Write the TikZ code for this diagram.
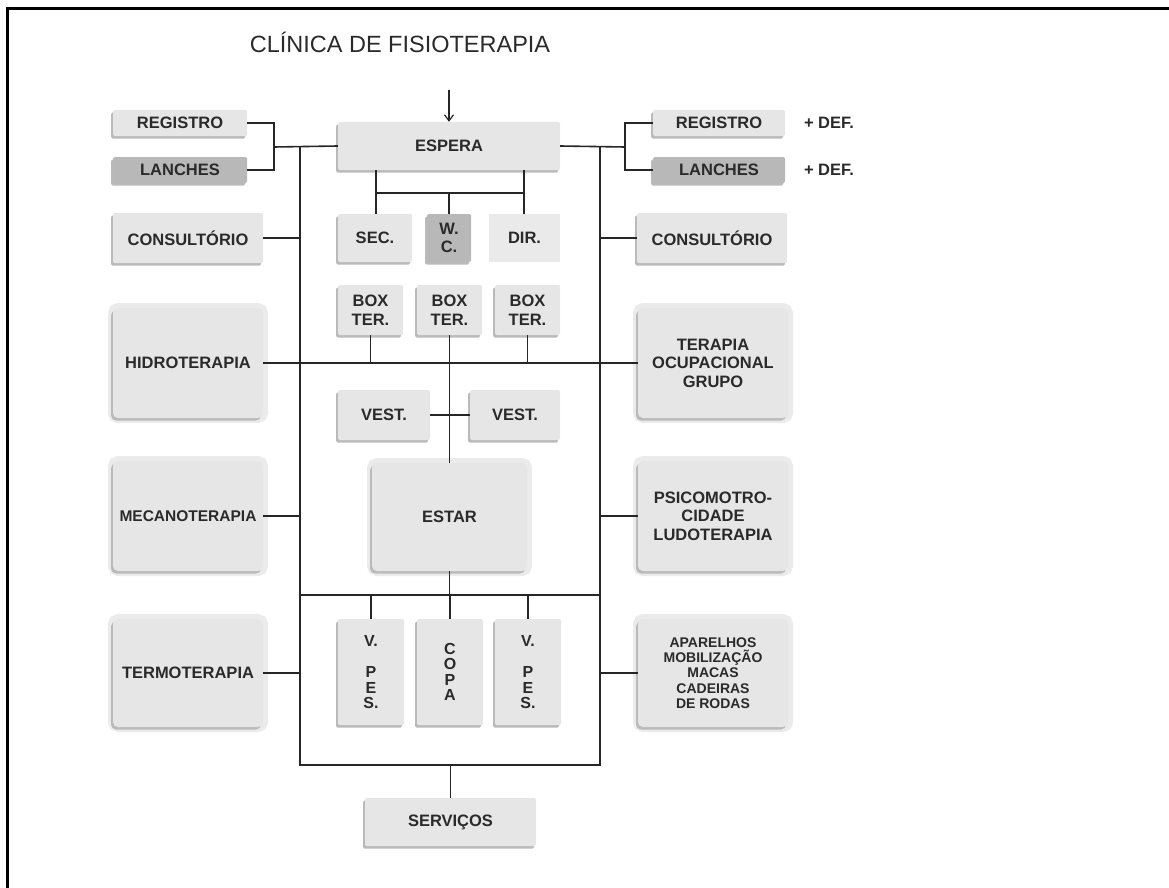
\documentclass[tikz,border=0pt]{standalone}
\usepackage{fontspec}
\setmainfont{Liberation Sans}
\usetikzlibrary{arrows.meta, shadows}
\definecolor{roomfill}{HTML}{E6E6E6}
\definecolor{wetfill}{HTML}{B8B8B8}
\definecolor{flatfill}{HTML}{EAEAEA}
\definecolor{shadefill}{HTML}{BABABA}
\definecolor{halofill}{HTML}{EBEBEB}
\definecolor{labeltext}{HTML}{2A2A2A}
\newcommand{\roomfont}{\bfseries\fontsize{16.5}{18.5}\selectfont}
\newcommand{\stackfont}{\bfseries\fontsize{16}{15.5}\selectfont}
\newcommand{\smallroomfont}{\bfseries\fontsize{14}{15.3}\selectfont}
\tikzset{
    room/.style={rectangle, rounded corners=1.5pt, fill=roomfill,
        text=labeltext, font=\roomfont, align=center, inner sep=0pt,
        drop shadow={shadow xshift=-2pt, shadow yshift=-2.5pt,
            fill=shadefill, opacity=1}},
    wetroom/.style={room, fill=wetfill},
    flatroom/.style={rectangle, fill=flatfill, text=labeltext,
        font=\roomfont, align=center, inner sep=0pt},
    bigroom/.style={preaction={draw=halofill, line width=10pt}, room,
        rounded corners=5pt},
    link/.style={draw=black!85, line width=1.6pt},
}

\begin{document}
\begin{tikzpicture}[x=1pt, y=-1pt]
    \useasboundingbox (0,0) rectangle (1169,888);
    \draw[line width=3pt] (7,888) -- (7,9) -- (1169,9); % Open frame

    \node[font=\fontsize{23.5}{26}\selectfont, text=labeltext] (title) at (400,42)
        {CLÍNICA DE FISIOTERAPIA};

    % Left wing
    \node[room, minimum width=134, minimum height=26] (regL) at (180,123) {REGISTRO};
    \node[wetroom, minimum width=134, minimum height=26] (lanL) at (180,170) {LANCHES};
    \node[room, minimum width=150, minimum height=50] (consL) at (188,238) {CONSULTÓRIO};
    \node[bigroom, minimum width=150, minimum height=110] (hidro) at (188,363) {HIDROTERAPIA};
    \node[bigroom, font=\bfseries\fontsize{15.5}{18}\selectfont, minimum width=150,
        minimum height=110] (mecano) at (188,516) {MECANOTERAPIA};
    \node[bigroom, minimum width=150, minimum height=108] (termo) at (188,673) {TERMOTERAPIA};

    % Central block
    \node[room, minimum width=222, minimum height=48] (espera) at (449,146) {ESPERA};
    \node[room, minimum width=74, minimum height=48] (sec) at (375,238) {SEC.};
    \node[wetroom, minimum width=44, minimum height=48] (wc) at (449,238) {W.\\C.};
    \node[flatroom, minimum width=71, minimum height=48] (dir) at (524.5,238) {DIR.};
    \node[room, minimum width=65, minimum height=50] (boxA) at (370.5,310) {BOX\\TER.};
    \node[room, minimum width=65, minimum height=50] (boxB) at (449.5,310) {BOX\\TER.};
    \node[room, minimum width=65, minimum height=50] (boxC) at (527.5,310) {BOX\\TER.};
    \node[room, minimum width=92, minimum height=50] (vestL) at (384,415) {VEST.};
    \node[room, minimum width=90, minimum height=50] (vestR) at (515,415) {VEST.};
    \node[bigroom, minimum width=155, minimum height=108] (estar) at (449.5,517) {ESTAR};
    \node[room, font=\stackfont, minimum width=66, minimum height=106] (vpesA) at (371,672)
        {V.\\[16pt]P\\E\\S.};
    \node[room, font=\stackfont, minimum width=66, minimum height=106] (copa) at (450,672)
        {C\\O\\P\\A};
    \node[room, font=\stackfont, minimum width=66, minimum height=106] (vpesB) at (528,672)
        {V.\\[16pt]P\\E\\S.};
    \node[room, minimum width=171, minimum height=48] (serv) at (450.5,822) {SERVIÇOS};

    % Right wing
    \node[room, minimum width=132, minimum height=26] (regR) at (719,123) {REGISTRO};
    \node[wetroom, minimum width=132, minimum height=26] (lanR) at (719,170) {LANCHES};
    \node[text=labeltext, font=\roomfont] (defA) at (829,123) {+ DEF.};
    \node[text=labeltext, font=\roomfont] (defB) at (829,170) {+ DEF.};
    \node[room, minimum width=150, minimum height=50] (consR) at (712,238) {CONSULTÓRIO};
    \node[bigroom, minimum width=150, minimum height=110] (terOc) at (713,363)
        {TERAPIA\\OCUPACIONAL\\GRUPO};
    \node[bigroom, minimum width=150, minimum height=110] (psico) at (713,516)
        {PSICOMOTRO-\\CIDADE\\LUDOTERAPIA};
    \node[bigroom, font=\smallroomfont, minimum width=150, minimum height=108] (apar) at (713,673)
        {APARELHOS\\MOBILIZAÇÃO\\MACAS\\CADEIRAS\\DE RODAS};

    % Junctions of the corridors
    \coordinate (entry) at (449,90);
    \coordinate (jL) at (274,147);
    \coordinate (jR) at (625,147);
    \coordinate (tl) at (300,147);
    \coordinate (tr) at (600,147);
    \coordinate (bl) at (300,765);
    \coordinate (br) at (600,765);
    \coordinate (mL) at (300,595);
    \coordinate (mR) at (600,595);
    \coordinate (eL) at (376,193);
    \coordinate (eR) at (524,193);

    \draw[link, line width=1.2pt, -{Straight Barb[length=6pt, width=9pt]}] (entry) -- (espera.north);
    \draw[link] (regL.east) -| (jL) |- (lanL.east);
    \draw[link] (jL) -- (espera.west);
    \draw[link] (regR.west) -| (jR) |- (lanR.west);
    \draw[link] (jR) -- (espera.east);
    \draw[link] (tl) -- (bl) -- (br) -- (tr); % Outer corridor
    \draw[link] (mL) -- (mR);

    \foreach \n in {consL, mecano, termo}
        \draw[link] (\n.east) -- (\n.east -| tl);
    \foreach \n in {consR, psico, apar}
        \draw[link] (\n.west) -- (\n.west -| tr);
    \draw[link] (hidro.east) -- (terOc.west);

    \draw[link] (eL |- espera.south) -- (eL |- sec.north);
    \draw[link] (eR |- espera.south) -- (eR |- dir.north);
    \draw[link] (eL) -- (eR);
    \draw[link] (wc.north) -- (wc.north |- eL);

    \draw[link] (boxA.south) -- (boxA.south |- hidro.east);
    \draw[link] (boxC.south) -- (boxC.south |- hidro.east);
    \draw[link] (boxB.south) -- (estar.north);
    \draw[link] (vestL.east) -- (vestR.west);
    \draw[link] (estar.south) -- (estar.south |- mL);
    \foreach \n in {vpesA, copa, vpesB}
        \draw[link] (\n.north) -- (\n.north |- mL);
    \draw[link] (serv.north) -- (serv.north |- bl);
\end{tikzpicture}
\end{document}
